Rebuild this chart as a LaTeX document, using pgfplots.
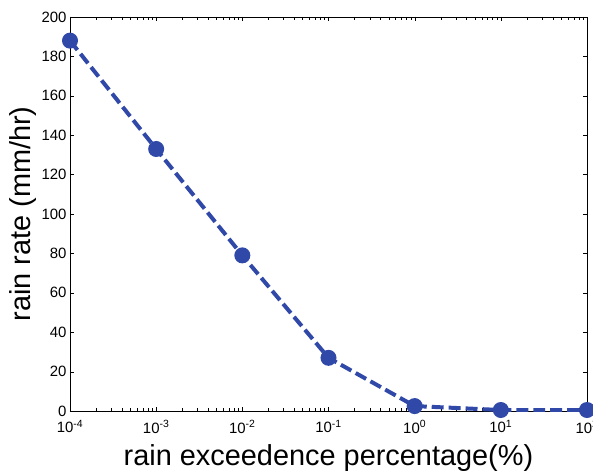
\documentclass[border=0pt]{standalone}
\usepackage{pgfplots}
\pgfplotsset{compat=1.18}
\usepackage{fontspec}
\setmainfont{Liberation Sans}
\definecolor{lineblue}{RGB}{48,72,168}
\begin{document}
\begin{tikzpicture}
\begin{semilogxaxis}[scale only axis,width=517bp,height=394bp,
  xmin=1e-4,xmax=1e2,ymin=0,ymax=200,
  ytick={0,20,...,200},
  xtick={1e-4,1e-3,1e-2,1e-1,1e0,1e1,1e2},
  xticklabels={10\textsuperscript{-4},10\textsuperscript{-3},10\textsuperscript{-2},10\textsuperscript{-1},10\textsuperscript{0},10\textsuperscript{1},10\textsuperscript{2}},
  tick align=inside,axis line style={black,line width=0.8pt},
  tick style={black},
  tick label style={font=\fontsize{15}{17}\selectfont},
  xticklabel style={yshift=-6bp},
  /pgf/number format/assume math mode=true,
  xlabel={rain exceedence percentage(\%)},
  ylabel={rain rate (mm/hr)},
  label style={font=\fontsize{29}{32}\selectfont},
  xlabel style={yshift=-5pt},
  ylabel style={yshift=-2pt}]
\addplot[lineblue,line width=4pt,dash pattern=on 12pt off 5pt,
  mark=*,mark size=6pt,mark options={solid}]
  coordinates {(1e-4,188) (1e-3,133) (1e-2,79) (1e-1,27) (1,2.5) (10,0.5) (100,0.5)};
\end{semilogxaxis}
\pgfresetboundingbox
\path ([xshift=-70bp,yshift=-61bp]current axis.south west) rectangle ([xshift=6bp,yshift=17bp]current axis.north east);
\end{tikzpicture}
\end{document}
